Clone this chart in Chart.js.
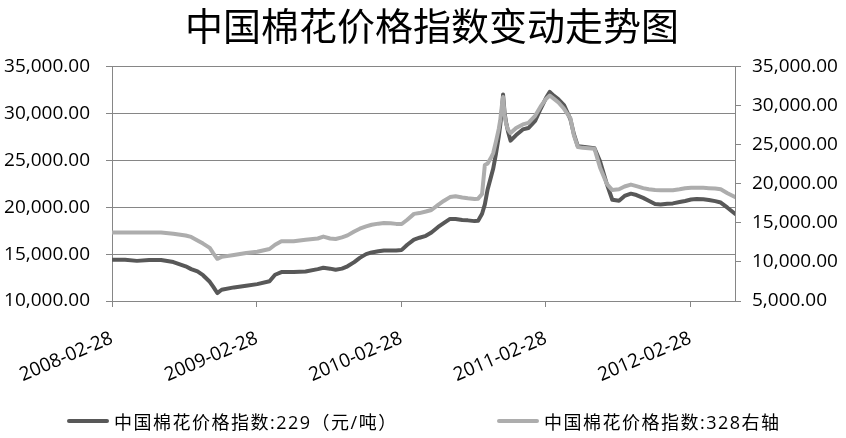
<!DOCTYPE html>
<html>
<head>
<meta charset="utf-8">
<script src="https://cdn.jsdelivr.net/npm/chart.js@4.4.1/dist/chart.umd.min.js"></script>
<style>
  html, body { margin: 0; padding: 0; background: #fff; }
  #wrap { position: relative; width: 846px; height: 438px; }
  #legend { position: absolute; left: 0; top: 408px; width: 846px; height: 26px;
            font: 18px "Open Sans", "Noto Sans CJK SC", sans-serif; letter-spacing: 1.5px; color: #000; }
  .item { position: absolute; top: 0; height: 26px; display: flex; align-items: center; white-space: nowrap; }
  .swatch { display: inline-block; width: 42px; height: 4px; border-radius: 2px; margin-right: 5px; }
</style>
</head>
<body>
<div id="wrap">
  <canvas id="chart" width="846" height="438"></canvas>
  <div id="legend"></div>
</div>
<script>
var dates = [
  '2008-02-28','2008-04-01','2008-05-01','2008-06-01','2008-07-01','2008-08-01',
  '2008-09-01','2008-09-15','2008-10-01','2008-10-15','2008-11-01','2008-11-10',
  '2008-11-20','2008-12-01','2009-01-01','2009-02-01','2009-03-01','2009-04-01',
  '2009-04-15','2009-05-01','2009-06-01','2009-07-01','2009-08-01','2009-08-15',
  '2009-09-01','2009-09-15','2009-10-01','2009-10-15','2009-11-01','2009-11-15',
  '2009-12-01','2009-12-15','2010-01-01','2010-01-15','2010-02-01','2010-02-15',
  '2010-03-01','2010-03-15','2010-04-01','2010-04-15','2010-05-01','2010-05-15',
  '2010-06-01','2010-06-15','2010-07-01','2010-07-15','2010-08-01','2010-08-15',
  '2010-09-01','2010-09-10','2010-09-20','2010-09-27','2010-10-04','2010-10-11',
  '2010-10-18','2010-10-25','2010-11-01','2010-11-05','2010-11-09','2010-11-12',
  '2010-11-16','2010-11-20','2010-11-25','2010-12-01','2010-12-15','2011-01-01',
  '2011-01-15','2011-02-01','2011-02-15','2011-03-01','2011-03-10','2011-03-20',
  '2011-04-01','2011-04-15','2011-05-01','2011-05-10','2011-05-20','2011-06-01',
  '2011-07-01','2011-07-15','2011-08-01','2011-08-15','2011-09-01','2011-09-15',
  '2011-10-01','2011-10-15','2011-11-01','2011-11-15','2011-12-01','2011-12-15',
  '2012-01-01','2012-01-15','2012-02-01','2012-02-15','2012-03-01','2012-03-15',
  '2012-04-01','2012-04-15','2012-05-01','2012-05-15','2012-06-01','2012-06-20'
];

// 中国棉花价格指数:229 (left axis)
var cotton229 = [
  14400, 14400, 14280, 14380, 14370, 14150,
  13700, 13400, 13150, 12750, 12050, 11500,
  10850, 11200, 11450, 11620, 11800, 12100,
  12800, 13080, 13100, 13150, 13400, 13550,
  13450, 13330, 13450, 13700, 14150, 14600,
  15000, 15180, 15300, 15380, 15380, 15380,
  15450, 16000, 16550, 16750, 16950, 17300,
  17900, 18300, 18750, 18750, 18650, 18600,
  18520, 18550, 19300, 20300, 21900, 23000,
  24100, 25700, 27500, 28800, 30300, 32030,
  30000, 29000, 28000, 27100, 27700, 28300,
  28450, 29200, 30500, 31700, 32300, 31900,
  31500, 30900, 29400, 27800, 26500, 26450,
  26300, 24900, 22500, 20800, 20700, 21200,
  21450, 21300, 21000, 20700, 20350, 20300,
  20380, 20410, 20550, 20660, 20820, 20870,
  20850, 20780, 20650, 20500, 19950, 19300
];

// 中国棉花价格指数:328 (right axis)
var cotton328 = [
  13780, 13780, 13780, 13780, 13760, 13620,
  13380, 13200, 12750, 12350, 11800, 11100,
  10400, 10650, 10900, 11150, 11300, 11650,
  12200, 12640, 12640, 12850, 13000, 13240,
  13000, 12940, 13150, 13400, 13900, 14250,
  14550, 14760, 14900, 14980, 14950, 14870,
  14850, 15400, 16150, 16250, 16450, 16650,
  17300, 17800, 18300, 18400, 18250, 18150,
  18050, 18100, 18700, 22400, 22600, 23200,
  23900, 25400, 27000, 28200, 30000, 31100,
  28800, 27600, 26900, 26500, 27150, 27600,
  27800, 28700, 29900, 30900, 31300, 30900,
  30400, 29600, 28400, 26200, 24700, 24600,
  24500, 22100, 20000, 19200, 19300, 19650,
  19900, 19700, 19450, 19300, 19200, 19180,
  19180, 19180, 19300, 19430, 19500, 19510,
  19480, 19440, 19400, 19300, 18800, 18300
];

var tickDates = ['2008-02-28', '2009-02-28', '2010-02-28', '2011-02-28', '2012-02-28'];

var seriesNames = ['中国棉花价格指数:229（元/吨）', '中国棉花价格指数:328右轴'];
var seriesColors = ['#585858', '#adadad'];

var DAY = 86400000;
var start = Date.parse(dates[0]);
function dayNum(d) {
  return Math.round((Date.parse(d) - start) / DAY);
}
function points(values) {
  return dates.map(function (d, i) { return { x: dayNum(d), y: values[i] }; });
}
function money(v) {
  return v.toLocaleString('en-US', { minimumFractionDigits: 2, maximumFractionDigits: 2 });
}

var gridColor = '#868686';
var tickFont = { family: '"Open Sans", sans-serif', size: 19 };

// the original title sits a little right of the canvas centre
var titleNudge = {
  id: 'titleNudge',
  afterLayout: function (chart) {
    if (chart.titleBlock) chart.titleBlock.left += 18;
  }
};

var config = {
  type: 'line',
  data: {
    datasets: [{
      label: seriesNames[0],
      data: points(cotton229),
      borderColor: seriesColors[0],
      yAxisID: 'y',
      order: 1
    }, {
      label: seriesNames[1],
      data: points(cotton328),
      borderColor: seriesColors[1],
      yAxisID: 'y2',
      order: 0
    }]
  },
  options: {
    responsive: false,
    animation: false,
    events: [],
    layout: { padding: 0 },
    elements: {
      point: { radius: 0 },
      line: { borderWidth: 4, tension: 0, borderJoinStyle: 'round', borderCapStyle: 'round' }
    },
    plugins: {
      legend: { display: false },
      tooltip: { enabled: false },
      title: {
        display: true,
        text: '中国棉花价格指数变动走势图',
        color: '#000',
        font: { family: '"Noto Sans CJK SC", sans-serif', size: 38, weight: 'normal' },
        padding: { top: 3, bottom: 18 }
      }
    },
    scales: {
      x: {
        type: 'linear',
        min: 0,
        max: dayNum(dates[dates.length - 1]),
        afterBuildTicks: function (axis) {
          axis.ticks = tickDates.map(function (d) { return { value: dayNum(d) }; });
        },
        afterFit: function (axis) { axis.height = 137; },
        grid: { drawOnChartArea: false, color: gridColor, tickLength: 6 },
        border: { color: gridColor },
        ticks: {
          autoSkip: false,
          minRotation: 23,
          maxRotation: 23,
          padding: 20,
          color: '#000',
          font: tickFont,
          callback: function (value, index) { return tickDates[index]; }
        }
      },
      y: {
        position: 'left',
        min: 10000,
        max: 35000,
        afterFit: function (axis) { axis.width = 112; },
        grid: { color: gridColor, tickLength: 6 },
        border: { color: gridColor },
        ticks: { stepSize: 5000, padding: 16, color: '#000', font: tickFont, callback: money }
      },
      y2: {
        position: 'right',
        min: 5000,
        max: 35000,
        afterFit: function (axis) { axis.width = 111; },
        grid: { drawOnChartArea: false, color: gridColor, tickLength: 6 },
        border: { color: gridColor },
        ticks: { stepSize: 5000, padding: 11, color: '#000', font: tickFont, callback: money }
      }
    }
  },
  plugins: [titleNudge]
};

window.onload = function () {
  var ctx = document.getElementById('chart').getContext('2d');
  window.cottonChart = new Chart(ctx, config);

  // legend kept as html so the wide gap between the two entries can be matched
  var legend = document.getElementById('legend');
  var lefts = [67, 497];
  seriesNames.forEach(function (name, i) {
    var item = document.createElement('div');
    item.className = 'item';
    item.style.left = lefts[i] + 'px';
    var sw = document.createElement('span');
    sw.className = 'swatch';
    sw.style.background = seriesColors[i];
    item.appendChild(sw);
    item.appendChild(document.createTextNode(name));
    legend.appendChild(item);
  });
};
</script>
</body>
</html>
